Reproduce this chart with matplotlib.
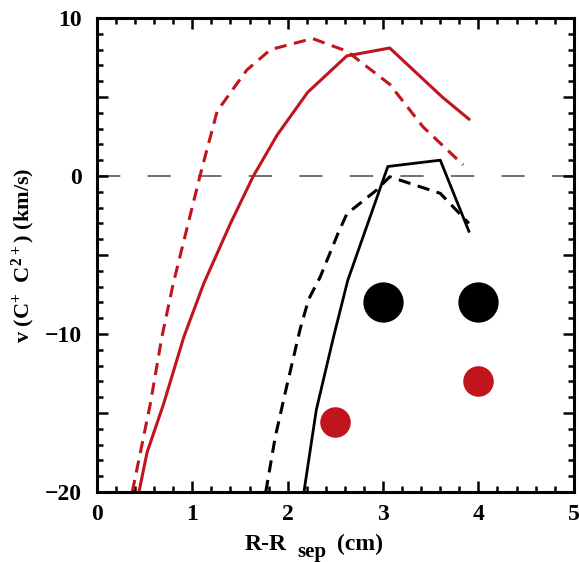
import numpy as np
from matplotlib import pyplot as plt
from matplotlib.ticker import MultipleLocator

plt.rcParams['font.family'] = ['Liberation Serif', 'DejaVu Serif']
plt.rcParams['font.weight'] = 'bold'
plt.rcParams['mathtext.fontset'] = 'custom'
plt.rcParams['mathtext.rm'] = 'Liberation Serif:bold'
plt.rcParams['mathtext.default'] = 'rm'

red = '#c0151c'

# model curves
red_solid_x = [0.44, 0.525, 0.70, 0.91, 1.12, 1.40, 1.64, 1.89, 2.21, 2.62, 3.07, 3.62, 3.9]
red_solid_y = [-20, -17.5, -14.4, -10.2, -6.8, -3.0, 0, 2.6, 5.3, 7.6, 8.1, 5.0, 3.6]

red_dash_x = [0.37, 0.455, 0.56, 0.68, 0.80, 0.94, 1.08, 1.26, 1.57, 1.82, 2.26, 2.62, 3.07, 3.42, 3.84]
red_dash_y = [-20, -17.5, -14.4, -10.2, -6.8, -3.4, 0, 4.1, 6.7, 8.0, 8.7, 7.9, 5.8, 3.1, 0.7]

blk_solid_x = [2.17, 2.30, 2.48, 2.63, 3.05, 3.6, 3.9]
blk_solid_y = [-20, -14.8, -10.2, -6.6, 0.6, 1.0, -3.5]

blk_dash_x = [1.77, 1.87, 1.99, 2.13, 2.22, 2.34, 2.53, 2.62, 2.93, 3.07, 3.6, 3.9]
blk_dash_y = [-20, -16.5, -13.3, -9.7, -7.8, -6.4, -3.6, -2.4, -0.9, -0.05, -1.1, -3.0]

# measurements
blk_pts_x = [3.0, 4.0]
blk_pts_y = [-8.0, -8.0]
red_pts_x = [2.5, 4.0]
red_pts_y = [-15.6, -13.0]

fig = plt.figure(figsize=(5.79, 5.62), dpi=100)
ax = fig.add_axes([0.1675, 0.1246, 0.8235, 0.8434])

ax.axhline(0, color='#707070', lw=1.4, ls=(0, (12, 14)), zorder=1)
ax.plot(red_solid_x, red_solid_y, color=red, lw=2.2)
ax.plot(red_dash_x, red_dash_y, color=red, lw=2.2, ls=(0, (4, 2.5)))
ax.plot(blk_solid_x, blk_solid_y, color='black', lw=2.0)
ax.plot(blk_dash_x, blk_dash_y, color='black', lw=2.2, ls=(0, (4, 2.5)))
ax.plot(blk_pts_x, blk_pts_y, 'o', color='black', ms=29, mec='none')
ax.plot(red_pts_x, red_pts_y, 'o', color=red, ms=22, mec='none')

ax.set_xlim(0, 5)
ax.set_ylim(-20, 10)
ax.xaxis.set_major_locator(MultipleLocator(1))
ax.xaxis.set_minor_locator(MultipleLocator(0.2))
ax.yaxis.set_minor_locator(MultipleLocator(1))
ax.set_yticks([-20, -15, -10, -5, 0, 5, 10])
ax.set_yticklabels(['\u221220', '', '\u221210', '', '0', '', '10'])
ax.tick_params(which='both', direction='in', top=True, right=True, width=1.8, labelsize=17)
ax.tick_params(which='major', length=8)
ax.tick_params(which='minor', length=4)
ax.tick_params(axis='y', pad=11)
ax.tick_params(axis='x', pad=9)
for s in ax.spines.values():
    s.set_linewidth(2.2)

# axis labels, subscript drawn at full size like the original
fig.text(245 / 579, 1 - 550 / 562, 'R-R', fontsize=17, ha='left', va='baseline')
fig.text(297 / 579, 1 - 557 / 562, 'sep', fontsize=15, ha='left', va='baseline')
fig.text(337 / 579, 1 - 550 / 562, '(cm)', fontsize=17, ha='left', va='baseline')
fig.text(23 / 579, 1 - 255 / 562, r'v (C$^{+}$  C$^{2+}$) (km/s)', fontsize=16,
         rotation=90, ha='center', va='center')

fig.savefig('out.png', dpi=100)
